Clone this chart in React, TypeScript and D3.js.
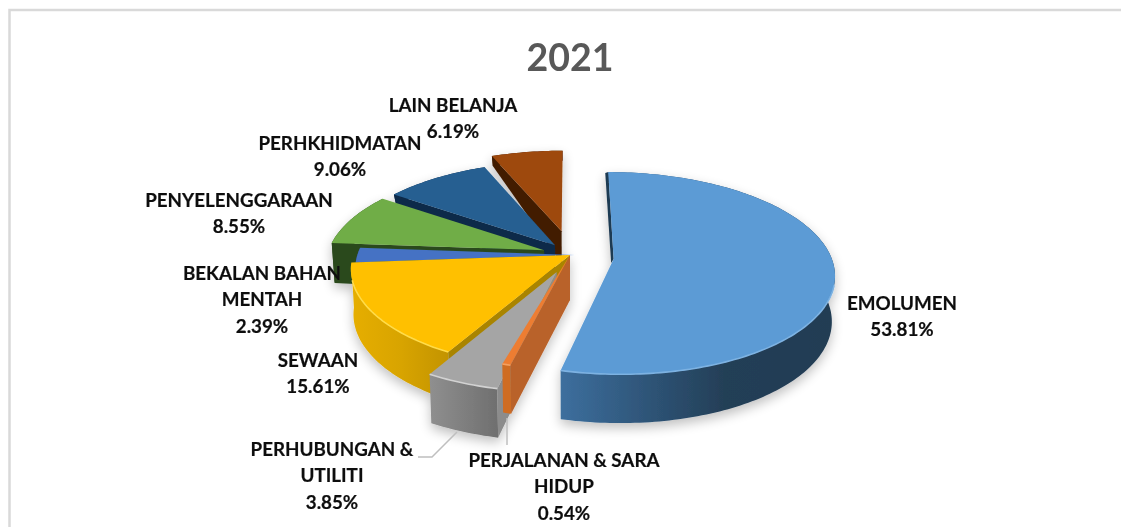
import React from "react";
import * as d3 from "d3";

const title = "2021";
const categories = ["EMOLUMEN", "PERJALANAN & SARA HIDUP", "PERHUBUNGAN & UTILITI", "SEWAAN", "BEKALAN BAHAN MENTAH", "PENYELENGGARAAN", "PERHKHIDMATAN", "LAIN BELANJA"];
const values = [53.81, 0.54, 3.85, 15.61, 2.39, 8.55, 9.06, 6.19];
const valueLabels = ["53.81%", "0.54%", "3.85%", "15.61%", "2.39%", "8.55%", "9.06%", "6.19%"];
const labelLines = [["EMOLUMEN"], ["PERJALANAN & SARA", "HIDUP"], ["PERHUBUNGAN &", "UTILITI"], ["SEWAAN"], ["BEKALAN BAHAN", "MENTAH"], ["PENYELENGGARAAN"], ["PERHKHIDMATAN"], ["LAIN BELANJA"]];
const labelCx = [902, 564, 332, 318, 262, 239, 340, 453];
const labelTop = [310, 467, 456, 367, 280, 207, 150, 112];
const explodeX = [0.2, 0, -0.06, 0, 0.02, -0.12, -0.07, -0.04];
const explodeY = [-0.04, 0, -0.17, 0, 0, 0.05, 0.1, 0.25];
const startPad = [0, 0, 0.05, 0, 0, 0, 0, 0];
const topColors = ["#5b9bd5", "#ed7d31", "#a5a5a5", "#ffc000", "#4472c4", "#70ad47", "#255e91", "#9e480e"];
const cutColors = ["#1f3a52", "#b9622a", "#8c8c8c", "#a98400", "#2a4a80", "#2c4a1e", "#0e2a48", "#431f05"];
const edgeColors = ["#7db2e2", "#f4a060", "#d2d2d2", "#ffdc4a", "#6c93d8", "#8cc468", "#3a78ad", "#b9602a"];
const hasEdge = [true, true, true, true, false, false, false, false];

const cx = 570, cy = 255, fx = 217, fy = 98, k = 0.14, converge = 0.012;
const depth = d3.scaleLinear().domain([150, 195, 243, 255, 380]).range([10, 10, 40, 45, 49]).clamp(true);
const toPath = d3.line<[number, number]>().x(d => d[0]).y(d => d[1]);

const project = (X: number, Y: number): [number, number] => {
  const w = 1 + k * Y;
  return [cx + (fx * X) / w, cy - (fy * Y) / w];
};
const drop = (p: [number, number]): [number, number] => [p[0] + (cx - p[0]) * converge, p[1] + depth(p[1])];

const arcs = d3.pie<number>().sort(null)(values);

const slices = arcs.map((a, i) => {
  const ex = explodeX[i], ey = explodeY[i];
  const rimAt = (t: number) => project(ex + Math.sin(t), ey + Math.cos(t));
  const a0 = a.startAngle - startPad[i], a1 = a.endAngle;
  const n = Math.max(2, Math.ceil((a1 - a0) / 0.02));
  const rim = d3.range(n + 1).map(j => rimAt(a0 + ((a1 - a0) * j) / n));
  const apex = project(ex, ey);
  const top = toPath([apex, ...rim])! + "Z";
  const outer = toPath([...rim, ...rim.map(p => drop(p)).reverse()])! + "Z";
  const s0 = rim[0], s1 = rim[rim.length - 1];
  const cutStart = i === 0
    ? toPath([apex, s0, [s0[0] - 3, s0[1] + 1], [apex[0] - 2.5, apex[1] + 4]])! + "Z"
    : toPath([apex, s0, drop(s0), drop(apex)])! + "Z";
  const cutEnd = toPath([apex, s1, drop(s1), drop(apex)])! + "Z";
  const front = rim.filter(p => p[1] > apex[1] + 25);
  const edge = hasEdge[i] && front.length > 1 ? toPath(front)! : null;
  return { i, top, outer, cutStart, cutEnd, edge };
});

const [blue, orange, gray, yellow, bekalan, green, navy, brown] = slices;

const Slice = ({ s, fillOuter, cutColor, parts }: any) => (
  <g>
    {parts.includes("outer") && <path d={s.outer} fill={fillOuter} />}
    {parts.includes("cutStart") && <path d={s.cutStart} fill={cutColor ?? cutColors[s.i]} />}
    {parts.includes("cutEnd") && <path d={s.cutEnd} fill={cutColor ?? cutColors[s.i]} />}
    {parts.includes("top") && <path d={s.top} fill={topColors[s.i]} />}
    {parts.includes("top") && s.edge && <path d={s.edge} fill="none" stroke={edgeColors[s.i]} strokeWidth={1.6} />}
  </g>
);

const font = "Lato, Carlito, 'Open Sans', sans-serif";

export default function App() {
  return (
    <svg width={1121} height={527} viewBox="0 0 1121 527" style={{ position: "absolute", left: 0, top: 0, background: "#fff" }}>
      <defs>
        <linearGradient id="gBlue" gradientUnits="userSpaceOnUse" x1={560} x2={834} y1={0} y2={0}>
          <stop offset="0" stopColor="#3d6f9e" />
          <stop offset="0.35" stopColor="#2d5274" />
          <stop offset="0.6" stopColor="#243f57" />
          <stop offset="1" stopColor="#223c53" />
        </linearGradient>
        <linearGradient id="gYellow" gradientUnits="userSpaceOnUse" x1={352} x2={450} y1={0} y2={0}>
          <stop offset="0" stopColor="#e6ae00" />
          <stop offset="0.5" stopColor="#d8a400" />
          <stop offset="1" stopColor="#c29300" />
        </linearGradient>
        <linearGradient id="gGray" gradientUnits="userSpaceOnUse" x1={430} x2={500} y1={0} y2={0}>
          <stop offset="0" stopColor="#8f8f8f" />
          <stop offset="1" stopColor="#6e6e6e" />
        </linearGradient>
        <filter id="soft" x="-10%" y="-10%" width="120%" height="125%">
          <feGaussianBlur in="SourceAlpha" stdDeviation="6" />
          <feOffset dx="0" dy="5" />
          <feComponentTransfer><feFuncA type="linear" slope="0.25" /></feComponentTransfer>
          <feMerge>
            <feMergeNode />
            <feMergeNode in="SourceGraphic" />
          </feMerge>
        </filter>
        <filter id="tiny"><feGaussianBlur stdDeviation="0.45" /></filter>
      </defs>

      <path d="M1121 10 H9.5 V527" fill="none" stroke="#d9d9d9" strokeWidth={2.5} />

      <text x={570} y={71} textAnchor="middle" fontFamily={font} fontWeight={700} fontSize={37.5} fill="#595959" filter="url(#tiny)">{title}</text>

      <g filter="url(#soft)">
        <g filter="url(#tiny)">
          <Slice s={brown} fillOuter={cutColors[7]} parts={["outer", "cutStart", "top"]} />
          <Slice s={navy} fillOuter={cutColors[6]} parts={["outer", "cutStart", "top"]} />
          <Slice s={green} fillOuter={cutColors[5]} parts={["outer", "cutStart", "top"]} />
          <Slice s={bekalan} fillOuter={cutColors[4]} parts={["outer", "top"]} />
          <Slice s={yellow} fillOuter="url(#gYellow)" parts={["outer", "cutStart"]} />
          <Slice s={gray} fillOuter="url(#gGray)" parts={["outer", "cutStart", "top"]} />
          <Slice s={orange} fillOuter="#cf6c22" cutColor="#b9622a" parts={["cutStart", "outer", "top"]} />
          <Slice s={yellow} fillOuter="none" parts={["top"]} />
          <Slice s={blue} fillOuter="url(#gBlue)" parts={["cutStart", "outer", "top"]} />
        </g>
      </g>

      <path d="M457 432 L432 457 L418 457" fill="none" stroke="#bfbfbf" strokeWidth={1.5} />
      <path d="M507 418 V445" fill="none" stroke="#bfbfbf" strokeWidth={1.5} />

      <g fontFamily={font} fontWeight={700} fontSize={18.8} fill="#111" textAnchor="middle" filter="url(#tiny)" stroke="#111" strokeWidth={0.2}>
        {categories.map((c, i) => {
          const lines = [...labelLines[i], valueLabels[i]];
          return (
            <text key={c}>
              {lines.map((t, j) => (
                <tspan key={j} x={labelCx[i]} y={labelTop[i] + j * 26.3}>{t}</tspan>
              ))}
            </text>
          );
        })}
      </g>
    </svg>
  );
}
